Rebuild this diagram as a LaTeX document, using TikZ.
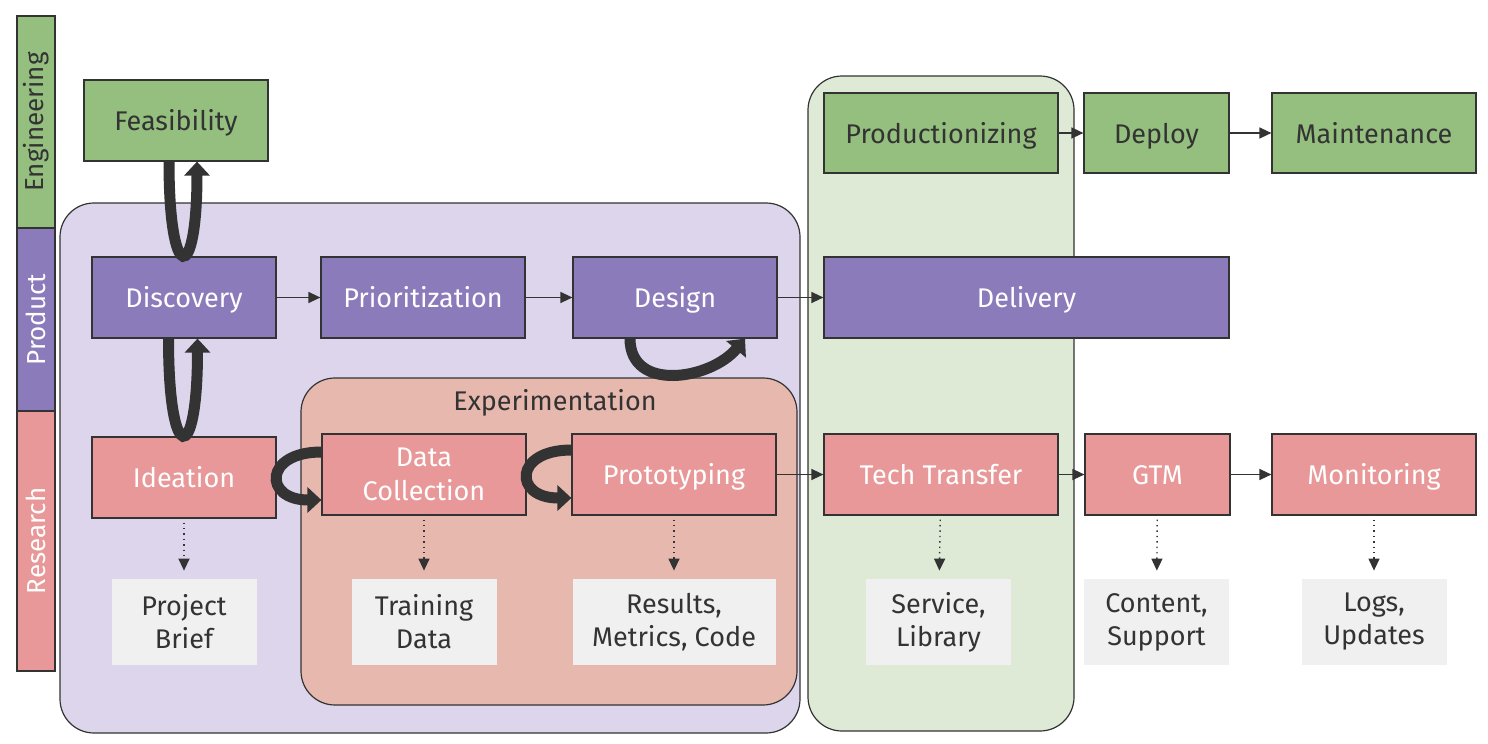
\documentclass[tikz,border=0pt]{standalone}
\usepackage{fontspec}
\setmainfont{Fira Sans}
\usetikzlibrary{arrows.meta, positioning, calc}
\definecolor{engGreen}{HTML}{95BF7F}
\definecolor{prdPurple}{HTML}{8B7BBB}
\definecolor{resPink}{HTML}{E89898}
\definecolor{prdRegion}{HTML}{DCD5EB}
\definecolor{engRegion}{HTML}{DEEAD6}
\definecolor{expRegion}{HTML}{E6B8AE}
\definecolor{artGray}{HTML}{F0F0F0}
\definecolor{lineGray}{HTML}{333333}

\begin{document}
\begin{tikzpicture}[x=0.5pt, y=-0.5pt,
    box/.style={draw=lineGray, line width=0.6pt, minimum height=40.5pt, inner sep=0pt, font=\fontsize{13.5}{16}\selectfont, text=white, text height=13pt, text depth=3pt},
    eng/.style={box, fill=engGreen, text=lineGray},
    prd/.style={box, fill=prdPurple},
    res/.style={box, fill=resPink},
    artifact/.style={fill=artGray, minimum width=72.5pt, minimum height=43pt, inner sep=0pt, align=center, font=\fontsize{13.5}{16.5}\selectfont, text=lineGray},
    lane/.style={draw=lineGray, line width=0.6pt, rotate=90, minimum height=19pt, inner sep=0pt, font=\fontsize{13}{15}\selectfont},
    region/.style={draw=lineGray, line width=0.6pt, rounded corners=17pt},
    flow/.style={-{Triangle[width=5.5pt,length=6pt]}, line width=0.7pt, draw=lineGray},
    yield/.style={-{Triangle[width=5.5pt,length=6pt]}, dotted, line width=0.7pt, draw=lineGray, shorten <=2pt, shorten >=4pt},
    bigloop/.style={-{Triangle[width=12.5pt,length=7pt]}, line width=5.5pt, draw=lineGray}
]
\useasboundingbox (0,0) rectangle (1488,744);

% Swim lanes on the left
\node[lane, fill=engGreen, minimum width=106pt, text=lineGray] (laneEng) at (36,122) {Engineering};
\node[lane, fill=prdPurple, minimum width=91.5pt, text=white] (lanePrd) at (36,319.5) {Product};
\node[lane, fill=resPink, minimum width=130pt, text=white] (laneRes) at (36,541) {Research};

% Background regions
\draw[region, fill=prdRegion] (60,203) rectangle (800,733);
\draw[region, fill=engRegion] (808,76) rectangle (1074,731);
\draw[region, fill=expRegion] (301,378) rectangle (797,705);
\node[font=\fontsize{13.5}{16}\selectfont, text=lineGray] (expLabel) at (555,403) {Experimentation};

% Engineering row
\node[eng, minimum width=92pt] (feas) at (176,120.5) {Feasibility};
\node[eng, minimum width=117pt, minimum height=40pt] (prod) at (941,133) {Productionizing};
\node[eng, minimum width=72.5pt, minimum height=40pt] (deploy) at (1156.5,133) {Deploy};
\node[eng, minimum width=102pt, minimum height=40pt] (maint) at (1374,133) {Maintenance};

% Product row
\node[prd, minimum width=92pt] (disc) at (184,297.5) {Discovery};
\node[prd, minimum width=102pt] (prio) at (423,297.5) {Prioritization};
\node[prd, minimum width=102pt] (design) at (675,297.5) {Design};
\node[prd, minimum width=202.5pt] (deliv) at (1026.5,297.5) {Delivery};

% Research row
\node[res, minimum width=92pt] (idea) at (184,477.5) {Ideation};
\node[res, minimum width=102pt, align=center, font=\fontsize{13.5}{17}\selectfont, text height=, text depth=] (datacol) at (424,474.5) {Data\\Collection};
\node[res, minimum width=102pt] (proto) at (674,474.5) {Prototyping};
\node[res, minimum width=117pt] (techtr) at (941,474.5) {Tech Transfer};
\node[res, minimum width=72.5pt] (gtm) at (1157.5,474.5) {GTM};
\node[res, minimum width=102pt] (monit) at (1374,474.5) {Monitoring};

% Artifacts
\node[artifact, below=30pt of idea] (brief) {Project\\Brief};
\node[artifact, below=31.5pt of datacol] (train) {Training\\Data};
\node[artifact, minimum width=101.5pt, below=31.5pt of proto] (results) {Results,\\Metrics, Code};
\node[artifact, below=31.5pt of techtr, xshift=-1.25pt] (service) {Service,\\Library};
\node[artifact, below=31.5pt of gtm, xshift=-0.5pt] (content) {Content,\\Support};
\node[artifact, below=31.5pt of monit] (logs) {Logs,\\Updates};

% Hand-offs
\draw[flow] (disc) -- (prio);
\draw[flow] (prio) -- (design);
\draw[flow] (design) -- (deliv);
\draw[flow] (prod) -- (deploy);
\draw[flow] (deploy) -- (maint);
\draw[flow] (proto) -- (techtr);
\draw[flow] (techtr) -- (gtm);
\draw[flow] (gtm) -- (monit);

% Outputs
\draw[yield] (idea) -- (brief);
\draw[yield] (datacol) -- (train);
\draw[yield] (proto) -- (results);
\draw[yield] (techtr) -- (service);
\draw[yield] (gtm) -- (content);
\draw[yield] (monit) -- (logs);

% Iteration loops
\draw[bigloop] ([xshift=-3.5pt]feas.south) .. controls +(0,-62pt) and +(0,-62pt) .. ([xshift=10.5pt]feas.south);
\draw[bigloop] ([xshift=-7.75pt]disc.south) .. controls +(0,-64pt) and +(0,-64pt) .. ([xshift=6.75pt]disc.south);
\draw[bigloop] ([yshift=11.25pt]datacol.west) .. controls +(-29pt,0) and +(-29pt,0) .. ([yshift=-12.75pt]datacol.west);
\draw[bigloop] ([yshift=12.25pt]proto.west) .. controls +(-29pt,0) and +(-29pt,0) .. ([yshift=-11.75pt]proto.west);
\draw[bigloop] ([xshift=-22.5pt]design.south) to[out=-90, in=-130, looseness=1.2] ([xshift=35pt]design.south);
\end{tikzpicture}
\end{document}
